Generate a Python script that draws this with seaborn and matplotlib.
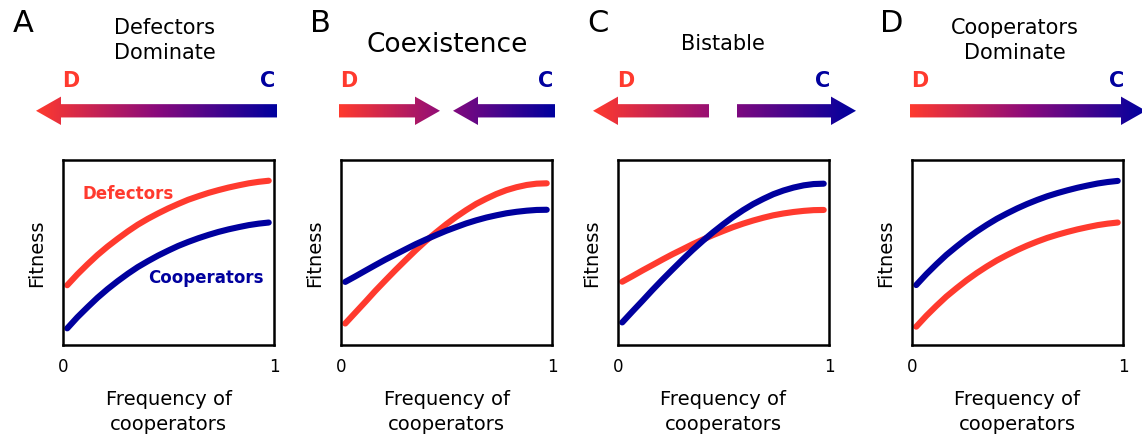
import numpy as np
import matplotlib
matplotlib.use('Agg')
import matplotlib.pyplot as plt
import seaborn as sns
from matplotlib.patches import FancyArrow
from matplotlib.colors import LinearSegmentedColormap

sns.set_style('white')
plt.rcParams['font.family'] = ['DejaVu Sans']
plt.rcParams['text.color'] = 'black'
plt.rcParams['axes.labelcolor'] = 'black'
plt.rcParams['xtick.color'] = 'black'

RED = '#FF3A2E'
BLUE = '#00009E'
MID = '#8A0A7C'

# ---------------------------------------------------
# data (fitness, arbitrary units 0..1)
# ---------------------------------------------------
freq = [0.020, 0.068, 0.116, 0.163, 0.211, 0.259, 0.307, 0.354, 0.402, 0.450, 0.498,
        0.545, 0.593, 0.641, 0.689, 0.736, 0.784, 0.832, 0.880, 0.927, 0.975]

# A - defectors dominate
a_defect = [0.323, 0.382, 0.436, 0.486, 0.532, 0.574, 0.614, 0.650, 0.682, 0.711, 0.738,
            0.762, 0.785, 0.804, 0.822, 0.837, 0.851, 0.863, 0.874, 0.882, 0.888]
a_coop = [0.090, 0.150, 0.204, 0.255, 0.302, 0.345, 0.385, 0.421, 0.453, 0.483, 0.510,
          0.535, 0.557, 0.577, 0.595, 0.611, 0.625, 0.637, 0.648, 0.656, 0.662]
# B - coexistence
b_defect = [0.116, 0.175, 0.234, 0.293, 0.350, 0.406, 0.460, 0.512, 0.562, 0.608, 0.652,
            0.692, 0.729, 0.763, 0.791, 0.816, 0.837, 0.853, 0.865, 0.872, 0.874]
b_coop = [0.341, 0.371, 0.402, 0.432, 0.462, 0.490, 0.518, 0.545, 0.570, 0.594, 0.617,
          0.637, 0.657, 0.674, 0.689, 0.701, 0.712, 0.720, 0.726, 0.730, 0.731]
# C - bistable
c_defect = [0.342, 0.372, 0.403, 0.432, 0.462, 0.491, 0.518, 0.545, 0.570, 0.594, 0.616,
            0.637, 0.656, 0.673, 0.688, 0.701, 0.711, 0.719, 0.725, 0.729, 0.730]
c_coop = [0.122, 0.181, 0.239, 0.297, 0.354, 0.409, 0.463, 0.514, 0.563, 0.609, 0.652,
          0.692, 0.729, 0.762, 0.790, 0.815, 0.835, 0.851, 0.863, 0.870, 0.872]
# D - cooperators dominate
d_defect = [0.099, 0.158, 0.212, 0.262, 0.307, 0.350, 0.389, 0.424, 0.457, 0.486, 0.513,
            0.537, 0.559, 0.579, 0.596, 0.611, 0.625, 0.637, 0.648, 0.656, 0.662]
d_coop = [0.324, 0.383, 0.437, 0.487, 0.532, 0.575, 0.614, 0.649, 0.682, 0.711, 0.738,
          0.762, 0.784, 0.804, 0.821, 0.836, 0.850, 0.862, 0.873, 0.881, 0.887]

letters = ['A', 'B', 'C', 'D']
titles = ['Defectors\nDominate', 'Coexistence', 'Bistable', 'Cooperators\nDominate']
defect_series = [a_defect, b_defect, c_defect, d_defect]
coop_series = [a_coop, b_coop, c_coop, d_coop]

# ---------------------------------------------------
# layout (pixels)
# ---------------------------------------------------
W, H = 1142, 435
box_left = [63, 341, 618, 912]
box_w, box_top, box_bot = 211, 161, 346
title_x = [165, 447.5, 723, 1015]
title_y = [40.5, 44.5, 44, 40.5]
title_fs = [15, 19, 15, 15]
letter_x = [23, 320, 597.5, 892]
# arrows: (tail, tip) per panel, gradient span red -> blue
arrows = [[(277, 36)], [(339, 440), (555, 453)], [(709, 593), (737, 856)], [(910, 1146)]]
grad_span = [(36, 277), (339, 555), (593, 856), (910, 1146)]
arrow_y = 111.8

fig = plt.figure(figsize=(W / 100, H / 100), dpi=100)

for i in range(4):
    ax = fig.add_axes([box_left[i] / W, 1 - box_bot / H, box_w / W, (box_bot - box_top) / H])
    sns.lineplot(x=freq, y=defect_series[i], color=RED, lw=4.4, solid_capstyle='round', ax=ax)
    sns.lineplot(x=freq, y=coop_series[i], color=BLUE, lw=4.4, solid_capstyle='round', ax=ax)
    ax.set_xlim(0, 1)
    ax.set_ylim(0, 1)
    ax.set_xticks([0, 1])
    ax.set_xticklabels(['0', '1'], fontsize=12)
    ax.set_yticks([])
    ax.tick_params(axis='x', length=0, pad=9)
    for s in ax.spines.values():
        s.set_visible(True)
        s.set_color('black')
        s.set_linewidth(1.8)
    ax.set_xlabel('Frequency of\ncooperators', fontsize=14, labelpad=10, linespacing=1.35)
    ax.set_ylabel('Fitness', fontsize=14, labelpad=12)
    if i == 0:
        ax.text(0.31, 0.82, 'Defectors', color=RED, fontsize=12, fontweight='bold',
                ha='center', va='center')
        ax.text(0.675, 0.37, 'Cooperators', color=BLUE, fontsize=12, fontweight='bold',
                ha='center', va='center')

# overlay in pixel coordinates for titles and arrows
ov = fig.add_axes([0, 0, 1, 1])
cmap = LinearSegmentedColormap.from_list('dc', [RED, MID, BLUE])
grad = np.linspace(0, 1, 256).reshape(1, -1)

for i in range(4):
    ov.text(letter_x[i], 24, letters[i], fontsize=22, ha='center', va='center')
    ov.text(title_x[i], title_y[i], titles[i], fontsize=title_fs[i], ha='center', va='center',
            multialignment='center', linespacing=1.3)
    ov.text(box_left[i] - 1, 81, 'D', color=RED, fontsize=15, fontweight='bold',
            ha='left', va='center')
    ov.text(box_left[i] + box_w + 1, 81, 'C', color=BLUE, fontsize=15, fontweight='bold',
            ha='right', va='center')
    x0, x1 = grad_span[i]
    for tail, tip in arrows[i]:
        arr = FancyArrow(tail, arrow_y, tip - tail, 0, width=13.3, head_width=28.4,
                         head_length=25, length_includes_head=True, fill=False, lw=0)
        ov.add_patch(arr)
        im = ov.imshow(grad, cmap=cmap, extent=(x0, x1, arrow_y + 16, arrow_y - 16),
                       aspect='auto', interpolation='bilinear')
        im.set_clip_path(arr)

ov.set_xlim(0, W)
ov.set_ylim(H, 0)
ov.axis('off')

fig.savefig('out.png', dpi=100)
